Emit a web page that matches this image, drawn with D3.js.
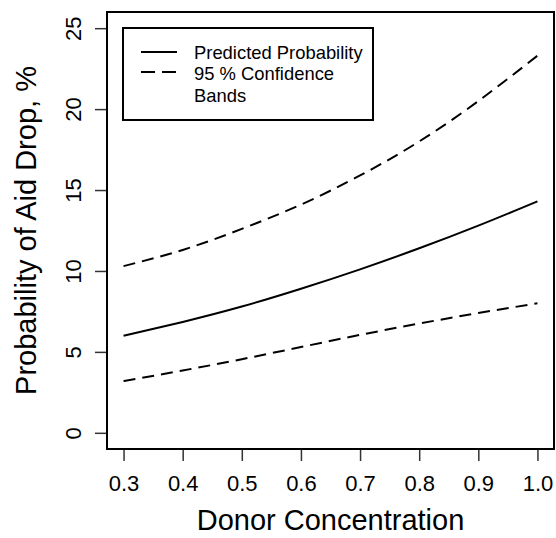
<!DOCTYPE html>
<html>
<head>
<meta charset="utf-8">
<script src="https://cdn.jsdelivr.net/npm/d3@7.9.0/dist/d3.min.js"></script>
<style>
  body { margin: 0; background: #fff; }
  svg { display: block; font-family: "Liberation Sans", Arial, Helvetica, sans-serif; }
</style>
</head>
<body>
<svg id="chart" width="556" height="538"></svg>
<script>
// values
const donorConc = [0.3, 0.4, 0.5, 0.6, 0.7, 0.8, 0.9, 1.0];
const predicted = [6.0, 6.85, 7.8, 8.9, 10.1, 11.4, 12.8, 14.3];
const upperBand = [10.3, 11.3, 12.6, 14.1, 15.9, 18.0, 20.5, 23.3];
const lowerBand = [3.2, 3.85, 4.55, 5.3, 6.05, 6.75, 7.4, 8.0];

const xTicks = [0.3, 0.4, 0.5, 0.6, 0.7, 0.8, 0.9, 1.0];
const yTicks = [0, 5, 10, 15, 20, 25];

const legendLabels = ['Predicted Probability', ['95 % Confidence', 'Bands']];

const svg = d3.select('#chart');

const plot = { left: 107, right: 554, top: 12, bottom: 449 };

// R style 4% padding on each side
let x = d3.scaleLinear().domain([0.272, 1.028]).range([plot.left, plot.right]);
let y = d3.scaleLinear().domain([-1, 26]).range([plot.bottom, plot.top]);

const rows = donorConc.map((d, i) => ({ x: d, fit: predicted[i], hi: upperBand[i], lo: lowerBand[i] }));

const line = (key) => d3.line()
    .x((d) => x(d.x))
    .y((d) => y(d[key]))
    .curve(d3.curveNatural);

// curves
svg.append('path')
   .datum(rows)
   .attr('d', line('fit'))
   .attr('fill', 'none')
   .attr('stroke', '#000')
   .attr('stroke-width', 2);

['hi', 'lo'].forEach((k) => {
    svg.append('path')
       .datum(rows)
       .attr('d', line(k))
       .attr('fill', 'none')
       .attr('stroke', '#000')
       .attr('stroke-width', 2)
       .attr('stroke-dasharray', '12,7');
});

// x axis
let xAxis = svg.append('g')
    .attr('transform', `translate(0,${plot.bottom})`)
    .call(d3.axisBottom(x).tickValues(xTicks).tickFormat(d3.format('.1f')).tickSize(12).tickPadding(14));
xAxis.select('.domain').remove();
xAxis.selectAll('line').attr('stroke', '#333').attr('stroke-width', 1.5);
xAxis.selectAll('text').attr('font-size', 22).attr('fill', '#000').attr('font-family', null);

// y axis, labels rotated like R
let yAxis = svg.append('g')
    .attr('transform', `translate(${plot.left},0)`)
    .call(d3.axisLeft(y).tickValues(yTicks).tickSize(12));
yAxis.select('.domain').remove();
yAxis.selectAll('line').attr('stroke', '#333').attr('stroke-width', 1.5);
yAxis.selectAll('text')
     .attr('x', null).attr('dy', null)
     .attr('text-anchor', 'middle')
     .attr('transform', 'translate(-26,0) rotate(-90)')
     .attr('font-size', 22).attr('fill', '#000').attr('font-family', null);

// frame
svg.append('rect')
   .attr('x', plot.left).attr('y', plot.top)
   .attr('width', plot.right - plot.left).attr('height', plot.bottom - plot.top)
   .attr('fill', 'none').attr('stroke', '#000').attr('stroke-width', 2);

// axis titles
svg.append('text')
   .attr('x', (plot.left + plot.right) / 2).attr('y', 530)
   .attr('text-anchor', 'middle').attr('font-size', 29)
   .text('Donor Concentration');

svg.append('text')
   .attr('transform', `translate(36,${(plot.top + plot.bottom) / 2}) rotate(-90)`)
   .attr('text-anchor', 'middle').attr('font-size', 29)
   .text('Probability of Aid Drop, %');

// legend
let legend = svg.append('g');
legend.append('rect')
      .attr('x', 123).attr('y', 28).attr('width', 250).attr('height', 92)
      .attr('fill', '#fff').attr('stroke', '#000').attr('stroke-width', 2);

legend.append('line')
      .attr('x1', 141).attr('x2', 177).attr('y1', 52).attr('y2', 52)
      .attr('stroke', '#000').attr('stroke-width', 2);
legend.append('line')
      .attr('x1', 141).attr('x2', 177).attr('y1', 72).attr('y2', 72)
      .attr('stroke', '#000').attr('stroke-width', 2).attr('stroke-dasharray', '14,7');

legend.append('text')
      .attr('x', 194).attr('y', 59).attr('font-size', 18.4)
      .text(legendLabels[0]);
legend.append('text')
      .attr('x', 194).attr('y', 80).attr('font-size', 18.4)
      .text(legendLabels[1][0]);
legend.append('text')
      .attr('x', 194).attr('y', 102).attr('font-size', 18.4)
      .text(legendLabels[1][1]);
</script>
</body>
</html>
